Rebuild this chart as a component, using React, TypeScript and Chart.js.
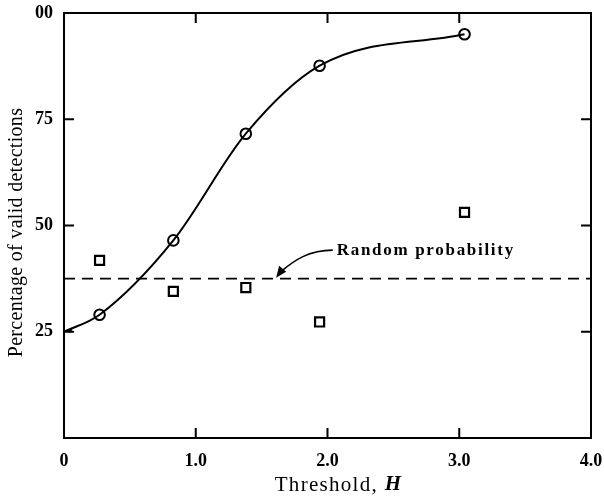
import React, { useEffect, useRef } from "react";
import { Chart, registerables } from "chart.js";

Chart.register(...registerables);

// ---- data ----
const thresholdH = [0.27, 0.83, 1.38, 1.94, 3.04];
const validDetections = [29, 46.5, 71.6, 87.6, 95];
const squareValues = [41.8, 34.5, 35.4, 27.3, 53.1];
const curveStartX = 0;
const curveStartY = 25;
const randomProbability = 37.5;
const xTicks = [0, 1, 2, 3, 4];
const xTickLabels = ["0", "1.0", "2.0", "3.0", "4.0"];
const yTicks = [25, 50, 75, 100];
const yTickLabels = ["25", "50", "75", "00"];
const xTitle = "Threshold, ";
const xTitleItalic = "H";
const yTitle = "Percentage of valid detections";
const annotationText = "Random probability";
const annotationTextAt = { x: 2.07, y: 44.2 };
const annotationArrowTip = { x: 1.61, y: 37.5 };

const SERIF = "'Liberation Serif', 'DejaVu Serif', serif";

const framePlugin = {
  id: "frame",
  afterDraw(chart: any) {
    const { ctx, chartArea: a, scales } = chart;
    const xs = scales.x;
    const ys = scales.y;
    ctx.save();
    ctx.strokeStyle = "#000";
    ctx.fillStyle = "#000";
    ctx.lineWidth = 2;
    ctx.strokeRect(a.left, a.top, a.right - a.left, a.bottom - a.top);
    const tl = 10;
    ctx.beginPath();
    xTicks.forEach((v) => {
      if (v === xs.min || v === xs.max) return;
      const px = xs.getPixelForValue(v);
      ctx.moveTo(px, a.bottom);
      ctx.lineTo(px, a.bottom - tl);
      ctx.moveTo(px, a.top);
      ctx.lineTo(px, a.top + tl);
    });
    yTicks.forEach((v) => {
      if (v === ys.min || v === ys.max) return;
      const py = ys.getPixelForValue(v);
      ctx.moveTo(a.left, py);
      ctx.lineTo(a.left + tl, py);
      ctx.moveTo(a.right, py);
      ctx.lineTo(a.right - tl, py);
    });
    ctx.stroke();

    // arrowhead at curve start
    const sx = xs.getPixelForValue(curveStartX);
    const sy = ys.getPixelForValue(curveStartY);
    ctx.beginPath();
    ctx.moveTo(sx + 1, sy);
    ctx.lineTo(sx + 9, sy - 5);
    ctx.lineTo(sx + 7, sy + 1);
    ctx.closePath();
    ctx.fill();

    // annotation
    const tx = xs.getPixelForValue(annotationTextAt.x);
    const ty = ys.getPixelForValue(annotationTextAt.y);
    ctx.font = `bold 17px ${SERIF}`;
    (ctx as any).letterSpacing = "1.7px";
    ctx.textAlign = "left";
    ctx.textBaseline = "middle";
    ctx.fillText(annotationText, tx, ty);
    (ctx as any).letterSpacing = "0px";

    const ax = xs.getPixelForValue(annotationArrowTip.x);
    const ay = ys.getPixelForValue(annotationArrowTip.y);
    ctx.lineWidth = 1.6;
    ctx.beginPath();
    ctx.moveTo(tx - 4, ty);
    ctx.bezierCurveTo(tx - 28, ty, ax + 18, ay - 18, ax + 6, ay - 8);
    ctx.stroke();
    ctx.beginPath();
    ctx.moveTo(ax, ay - 1);
    ctx.lineTo(ax + 3, ay - 13);
    ctx.lineTo(ax + 10, ay - 7);
    ctx.closePath();
    ctx.fill();

    // axis titles
    ctx.textBaseline = "middle";
    (ctx as any).letterSpacing = "1.3px";
    const cx = (a.left + a.right) / 2 + 11;
    ctx.font = `21px ${SERIF}`;
    const wMain = ctx.measureText(xTitle).width;
    ctx.font = `italic bold 21px ${SERIF}`;
    const wIt = ctx.measureText(xTitleItalic).width;
    const start = cx - (wMain + wIt) / 2;
    ctx.textAlign = "left";
    ctx.font = `21px ${SERIF}`;
    ctx.fillText(xTitle, start, 485);
    ctx.font = `italic bold 21px ${SERIF}`;
    ctx.fillText(xTitleItalic, start + wMain, 485);

    ctx.translate(17, (a.top + a.bottom) / 2 + 7);
    ctx.rotate(-Math.PI / 2);
    ctx.textAlign = "center";
    ctx.font = `20px ${SERIF}`;
    (ctx as any).letterSpacing = "0.3px";
    ctx.fillText(yTitle, 0, 0);
    ctx.restore();
  },
};

export default function App() {
  const ref = useRef<HTMLCanvasElement | null>(null);
  useEffect(() => {
    if (!ref.current) return;
    const curvePoints = [{ x: curveStartX, y: curveStartY }].concat(
      thresholdH.map((x, i) => ({ x, y: validDetections[i] }))
    );
    const chart = new Chart(ref.current, {
      type: "scatter",
      data: {
        datasets: [
          {
            data: [
              { x: 0, y: randomProbability },
              { x: 4, y: randomProbability },
            ],
            showLine: true,
            borderColor: "#000",
            borderWidth: 1.8,
            borderDash: [11, 7],
            pointRadius: 0,
          },
          {
            data: curvePoints,
            showLine: true,
            borderColor: "#000",
            borderWidth: 2,
            cubicInterpolationMode: "monotone",
            pointRadius: 0,
          },
          {
            data: thresholdH.map((x, i) => ({ x, y: validDetections[i] })),
            pointStyle: "circle",
            pointRadius: 5.3,
            borderWidth: 2,
            borderColor: "#000",
            backgroundColor: "#fff",
          },
          {
            data: thresholdH.map((x, i) => ({ x, y: squareValues[i] })),
            pointStyle: "rect",
            pointRadius: 6.4,
            borderWidth: 2.2,
            borderColor: "#000",
            backgroundColor: "#fff",
          },
        ],
      } as any,
      options: {
        animation: false,
        responsive: false,
        layout: { padding: { top: 13, right: 13, left: 0, bottom: 0 } },
        plugins: { legend: { display: false }, tooltip: { enabled: false } },
        scales: {
          x: {
            type: "linear",
            min: 0,
            max: 4,
            afterBuildTicks: (s: any) => {
              s.ticks = xTicks.map((v) => ({ value: v }));
            },
            afterFit: (s: any) => {
              s.height = 59;
              s.paddingLeft = 0;
              s.paddingRight = 0;
            },
            ticks: {
              color: "#000",
              padding: 5,
              maxRotation: 0,
              font: { family: SERIF, size: 18, weight: "bold" },
              callback: (v: any) => xTickLabels[xTicks.indexOf(Number(v))] ?? "",
            },
            grid: { display: false },
            border: { display: false },
          },
          y: {
            type: "linear",
            min: 0,
            max: 100,
            afterBuildTicks: (s: any) => {
              s.ticks = yTicks.map((v) => ({ value: v }));
            },
            afterFit: (s: any) => {
              s.width = 64;
              s.paddingTop = 0;
              s.paddingBottom = 0;
            },
            ticks: {
              color: "#000",
              padding: 3,
              font: { family: SERIF, size: 18, weight: "bold" },
              callback: (v: any) => yTickLabels[yTicks.indexOf(Number(v))] ?? "",
            },
            grid: { display: false },
            border: { display: false },
          },
        },
      } as any,
      plugins: [framePlugin],
    });
    return () => chart.destroy();
  }, []);
  return (
    <div style={{ position: "absolute", left: 0, top: 0, width: 604, height: 497, background: "#fff" }}>
      <canvas ref={ref} width={604} height={497} style={{ display: "block" }} />
    </div>
  );
}
